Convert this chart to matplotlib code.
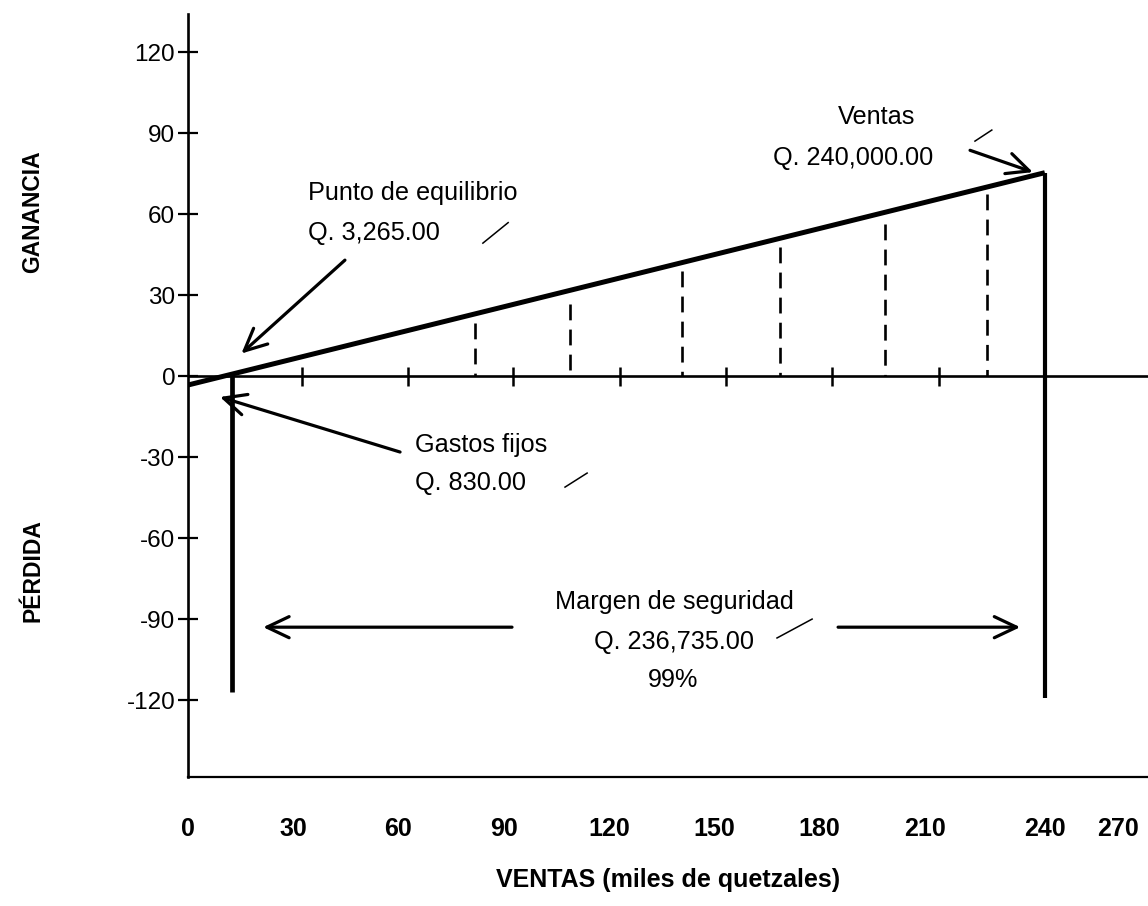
import numpy as np
import matplotlib.pyplot as plt

plt.rcParams['axes.unicode_minus'] = False
plt.rcParams['font.family'] = ['Liberation Sans', 'DejaVu Sans']
narrow = ['Liberation Sans Narrow', 'Liberation Sans', 'DejaVu Sans']

# datos (miles de quetzales, escala del dibujo)
ventas_ticks = [0, 30, 60, 90, 120, 150, 180, 210, 240, 270]
ventas_pos = [0, 30, 60, 90, 120, 150, 180, 210, 244.2, 265]
ganancia_ticks = [-120, -90, -60, -30, 0, 30, 60, 90, 120]

linea_x = [0, 244.2]
linea_y = [-3.3, 75.4]

punto_eq_x = 12.5
punto_eq_bajo = -117
ventas_x = 244.2
ventas_bajo = -119.3

guias_x = [81.9, 108.9, 140.8, 168.7, 198.6, 227.7]
guias_top = [19.6, 26.7, 39.1, 47.9, 56.4, 67.6]
marcas_eje = [32.5, 62.7, 92.8, 123.1, 153.5, 183.7, 214.0]

# figura
fig = plt.figure(figsize=(11.48, 9.06), dpi=100)
ax = fig.add_axes([187.7 / 1148, (906 - 776.7) / 906, 1 - 187.7 / 1148, (776.7 - 14) / 906])
ax.set_xlim(0, 273.6)
ax.set_ylim(-148.4, 134.2)

ax.spines['top'].set_visible(False)
ax.spines['right'].set_visible(False)
ax.spines['left'].set_linewidth(1.9)
ax.spines['bottom'].set_linewidth(1.6)

ax.set_yticks(ganancia_ticks)
ax.set_yticklabels([str(v) for v in ganancia_ticks])
ax.tick_params(axis='y', direction='inout', length=14, width=1.6, labelsize=17.5, pad=2)

ax.set_xticks(ventas_pos)
ax.set_xticklabels([str(v) for v in ventas_ticks], family=narrow, fontweight='bold', fontsize=18)
ax.tick_params(axis='x', length=0, pad=29)

# eje cero con marcas
ax.axhline(0, color='black', lw=1.9)
ax.vlines(marcas_eje, -3.5, 3.5, color='black', lw=1.8)

# lineas guia punteadas (desde arriba hacia el eje)
for gx, gt in zip(guias_x, guias_top):
    ax.plot([gx, gx], [gt, 0], color='black', lw=1.9, linestyle=(0, (6, 3.5)))

# linea de ganancia
ax.plot(linea_x, linea_y, color='black', lw=3.6, solid_capstyle='butt')

# verticales
ax.vlines([punto_eq_x], punto_eq_bajo, 0, color='black', lw=3.4)
ax.vlines([ventas_x], ventas_bajo, linea_y[-1], color='black', lw=3.0)

# flechas
estilo = dict(arrowstyle='->,head_length=0.8,head_width=0.38', lw=2.3, color='black',
              mutation_scale=20, shrinkA=0, shrinkB=0)
ax.annotate('', xy=(15.3, 8.4), xytext=(44.8, 43.0), arrowprops=estilo)
ax.annotate('', xy=(9.2, -7.7), xytext=(60.5, -28.1), arrowprops=estilo)
ax.annotate('', xy=(240.8, 75.6), xytext=(222.9, 83.7), arrowprops=estilo)
ax.annotate('', xy=(21.5, -93.0), xytext=(92.4, -93.0), arrowprops=estilo)
ax.annotate('', xy=(237.2, -93.0), xytext=(185.3, -93.0), arrowprops=estilo)

# textos
fs = 18.2
ax.text(34.3, 67.8, 'Punto de equilibrio', fontsize=fs, ha='left', va='center')
ax.text(34.3, 53.0, 'Q. 3,265.00', fontsize=fs, ha='left', va='center')
ax.text(64.8, -25.5, 'Gastos fijos', fontsize=fs, ha='left', va='center')
ax.text(64.8, -39.6, 'Q. 830.00', fontsize=fs, ha='left', va='center')
ax.text(196.4, 96.1, 'Ventas', fontsize=fs, ha='center', va='center')
ax.text(189.6, 81.0, 'Q. 240,000.00', fontsize=fs, ha='center', va='center')
ax.text(138.6, -83.6, 'Margen de seguridad', fontsize=fs, ha='center', va='center')
ax.text(138.6, -98.4, 'Q. 236,735.00', fontsize=fs, ha='center', va='center')
ax.text(138.3, -112.6, '99%', fontsize=fs, ha='center', va='center')

# marcas a mano
for (x0, y0), (x1, y1) in [((84.1, 49.3), (91.3, 56.9)), ((107.5, -41.1), (113.8, -35.9)),
                           ((167.9, -97.0), (177.9, -90.0)), ((224.3, 87.1), (229.1, 91.2))]:
    ax.plot([x0, x1], [y0, y1], color='black', lw=1.1)

# etiquetas de ejes
fig.text(33 / 1148, 1 - 212 / 906, 'GANANCIA', rotation=90, family=narrow, fontweight='bold',
         fontsize=16.5, ha='center', va='center')
fig.text(33 / 1148, 1 - 571 / 906, 'PÉRDIDA', rotation=90, family=narrow, fontweight='bold',
         fontsize=16.5, ha='center', va='center')
fig.text(668 / 1148, 1 - 880 / 906, 'VENTAS (miles de quetzales)', family=narrow,
         fontweight='bold', fontsize=18, ha='center', va='center')

fig.savefig('out.png', dpi=100)
